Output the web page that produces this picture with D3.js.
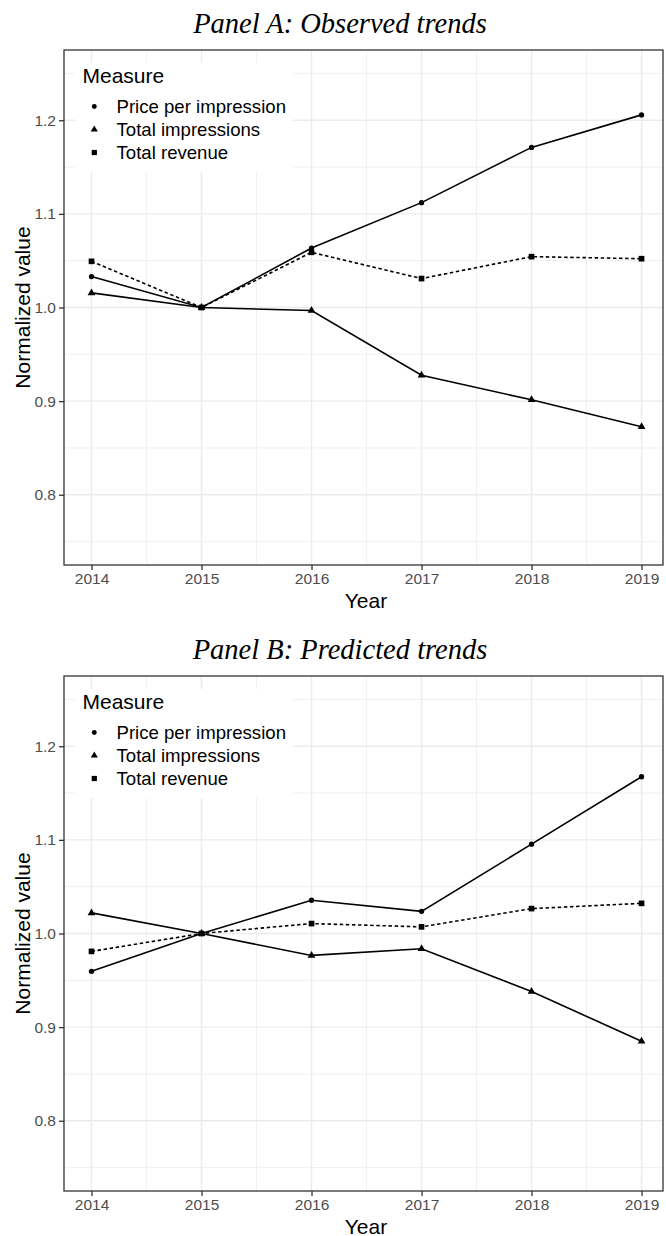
<!DOCTYPE html>
<html><head><meta charset="utf-8">
<script src="https://cdn.jsdelivr.net/npm/d3@7"></script>
<style>html,body{margin:0;padding:0;background:#fff}svg{display:block}</style>
</head><body>
<svg id="chart" width="666" height="1236"></svg>
<script>
const years = [2014, 2015, 2016, 2017, 2018, 2019];
const measures = ["Price per impression", "Total impressions", "Total revenue"];
const yTicks = [0.8, 0.9, 1.0, 1.1, 1.2];
const yMinor = [0.75, 0.85, 0.95, 1.05, 1.15, 1.25];
const xMinor = [2014.5, 2015.5, 2016.5, 2017.5, 2018.5];
const panelTitles = ["Panel A: Observed trends", "Panel B: Predicted trends"];

const priceA = [1.033, 1.000, 1.0635, 1.112, 1.171, 1.2057];
const imprA  = [1.0156, 1.000, 0.9968, 0.9277, 0.9014, 0.8727];
const revA   = [1.0493, 1.000, 1.0589, 1.0309, 1.0543, 1.0521];
const priceB = [0.9596, 1.000, 1.0355, 1.0237, 1.0954, 1.1674];
const imprB  = [1.022, 1.000, 0.9766, 0.9837, 0.938, 0.885];
const revB   = [0.9809, 1.000, 1.0106, 1.0071, 1.0266, 1.0322];

const panels = [
  {title: panelTitles[0], series: [priceA, imprA, revA], oy: 0},
  {title: panelTitles[1], series: [priceB, imprB, revB], oy: 626}
];

const svg = d3.select("#chart");
const L = 64, R = 663, T = 50, B = 565;
const sans = "'Liberation Sans', Arial, Helvetica, sans-serif";
const symbols = [d3.symbolCircle, d3.symbolTriangle, d3.symbolSquare];
const symSizes = [22, 26, 32];
const dashes = [null, null, "3.5,2.6"];

const x = d3.scaleLinear().domain([2013.75, 2019.195]).range([L, R]);
const y = d3.scaleLinear().domain([0.725, 1.275]).range([B, T]);

svg.append("defs").append("clipPath").attr("id", "clipP")
  .append("rect").attr("x", L).attr("y", T).attr("width", R - L).attr("height", B - T);

panels.forEach((p, pi) => {
  const g = svg.append("g").attr("transform", `translate(0,${p.oy})`);
  g.append("text").attr("x", 340).attr("y", 33).attr("text-anchor", "middle")
    .style("font-family", "'Liberation Serif', 'Times New Roman', serif")
    .style("font-style", "italic").style("font-size", "28.5px").attr("fill", "#000")
    .text(p.title);
  g.append("rect").attr("x", L).attr("y", T).attr("width", R - L).attr("height", B - T).attr("fill", "#fff");
  const grid = g.append("g");
  grid.selectAll(".ymin").data(yMinor).join("line")
    .attr("x1", L).attr("x2", R).attr("y1", d => y(d)).attr("y2", d => y(d))
    .attr("stroke", "#EBEBEB").attr("stroke-width", 0.7);
  grid.selectAll(".xmin").data(xMinor).join("line")
    .attr("y1", T).attr("y2", B).attr("x1", d => x(d)).attr("x2", d => x(d))
    .attr("stroke", "#EBEBEB").attr("stroke-width", 0.7);
  grid.selectAll(".ymaj").data(yTicks).join("line")
    .attr("x1", L).attr("x2", R).attr("y1", d => y(d)).attr("y2", d => y(d))
    .attr("stroke", "#EBEBEB").attr("stroke-width", 1.4);
  grid.selectAll(".xmaj").data(years).join("line")
    .attr("y1", T).attr("y2", B).attr("x1", d => x(d)).attr("x2", d => x(d))
    .attr("stroke", "#EBEBEB").attr("stroke-width", 1.4);

  const dg = g.append("g").attr("clip-path", "url(#clipP)");
  const line = d3.line().x((d, i) => x(years[i])).y(d => y(d));
  p.series.forEach((s, si) => {
    dg.append("path").datum(s).attr("d", line).attr("fill", "none")
      .attr("stroke", "#000").attr("stroke-width", 1.6)
      .attr("stroke-dasharray", dashes[si]);
  });
  p.series.forEach((s, si) => {
    dg.selectAll(null).data(s).join("path")
      .attr("transform", (d, i) => `translate(${x(years[i])},${y(d)})`)
      .attr("d", d3.symbol().type(symbols[si]).size(symSizes[si]))
      .attr("fill", "#000");
  });

  const lg = g.append("g");
  lg.append("rect").attr("x", 75).attr("y", 63).attr("width", 218).attr("height", 109).attr("fill", "#fff");
  lg.append("text").attr("x", 82.5).attr("y", 82.5).style("font-family", sans).style("font-size", "21px")
    .attr("fill", "#000").text("Measure");
  measures.forEach((m, i) => {
    const cy = 106.5 + i * 23;
    lg.append("path").attr("transform", `translate(94.3,${cy})`)
      .attr("d", d3.symbol().type(symbols[i]).size(symSizes[i] * 0.85)).attr("fill", "#000");
    lg.append("text").attr("x", 116.5).attr("y", cy + 6.7).style("font-family", sans).style("font-size", "18.6px")
      .attr("fill", "#000").text(m);
  });

  const ax = g.append("g").attr("transform", `translate(0,${B})`)
    .call(d3.axisBottom(x).tickValues(years).tickFormat(d3.format("d")).tickSize(5).tickPadding(3));
  ax.select(".domain").remove();
  ax.selectAll("line").attr("stroke", "#333").attr("stroke-width", 1.3);
  ax.selectAll("text").style("font-family", sans).style("font-size", "15.5px").attr("fill", "#4D4D4D");

  const ay = g.append("g").attr("transform", `translate(${L},0)`)
    .call(d3.axisLeft(y).tickValues(yTicks).tickFormat(d3.format(".1f")).tickSize(5).tickPadding(3));
  ay.select(".domain").remove();
  ay.selectAll("line").attr("stroke", "#333").attr("stroke-width", 1.3);
  ay.selectAll("text").style("font-family", sans).style("font-size", "15.5px").attr("fill", "#4D4D4D");

  g.append("rect").attr("x", L).attr("y", T).attr("width", R - L).attr("height", B - T)
    .attr("fill", "none").attr("stroke", "#333").attr("stroke-width", 1.3);

  g.append("text").attr("x", 366).attr("y", 607.5).attr("text-anchor", "middle")
    .style("font-family", sans).style("font-size", "21px").attr("fill", "#000").text("Year");
  g.append("text").attr("transform", `translate(29.5,${(T + B) / 2}) rotate(-90)`).attr("text-anchor", "middle")
    .style("font-family", sans).style("font-size", "21px").attr("fill", "#000").text("Normalized value");
});
</script>
</body></html>
